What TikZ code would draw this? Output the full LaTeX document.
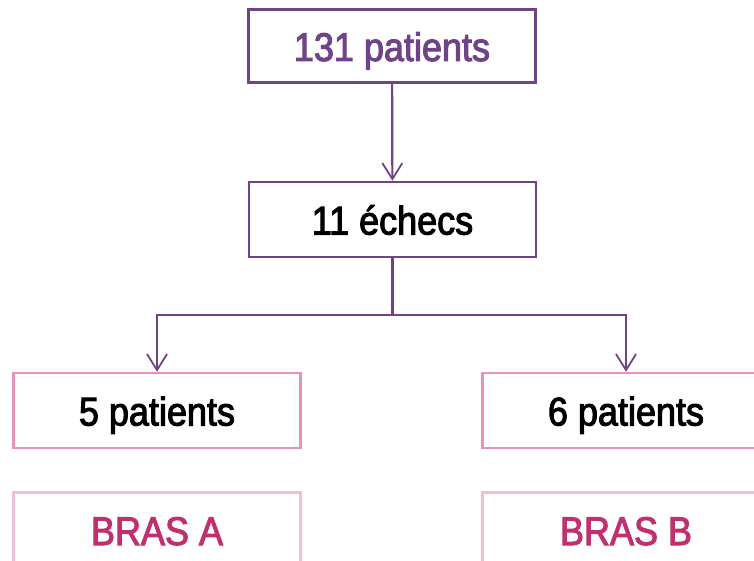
\documentclass[tikz,border=0pt]{standalone}
\usepackage{fontspec}
\setmainfont{Liberation Sans}[FakeStretch=0.9,RawFeature={embolden=2.5}]
\usepackage{tikz}
\usetikzlibrary{arrows.meta}
\definecolor{violet}{HTML}{6F4487}
\definecolor{rose}{HTML}{E891B9}
\definecolor{rosepale}{HTML}{F3BDD7}
\definecolor{framboise}{HTML}{C0306F}
\tikzset{>={Straight Barb[length=16pt,width=20pt,line width=1.8pt]}}
\tikzset{
  boite/.style={draw, rectangle, minimum width=287pt, minimum height=75pt, inner sep=0pt,
    text height=30pt, text depth=0pt, font=\fontsize{40pt}{40pt}\selectfont},
  fleche/.style={violet, line width=2.2pt}
}

\begin{document}
\begin{tikzpicture}[x=1pt,y=-1pt]
			\useasboundingbox (0,0) rectangle (754,561);
			\clip (0,0) rectangle (754,561);
			
			\node[boite, draw=violet, line width=3.5pt, text=violet, minimum height=73pt] (total) at (392,46) {131 patients};
			\node[boite, draw=violet, line width=2.5pt] (echecs) at (392.5,219.5) {11 échecs};
			\node[boite, draw=rose, line width=2.5pt] (gauche) at (157,410.5) {5 patients};
			\node[boite, draw=rose, line width=2.5pt] (droite) at (626,410.5) {6 patients};
			\node[boite, draw=rosepale, line width=2.5pt, text=framboise] (brasA) at (157,530) {BRAS A};
			\node[boite, draw=rosepale, line width=2.5pt, text=framboise] (brasB) at (626,530) {BRAS B};
			
			\draw[->,fleche] (total) -- (echecs);
			\draw[fleche] (echecs.south) -- ++(0,57) coordinate (split);
			\draw[->,fleche] (split) -| (gauche);
			\draw[->,fleche] (split) -| (droite);
			\end{tikzpicture}
\end{document}
